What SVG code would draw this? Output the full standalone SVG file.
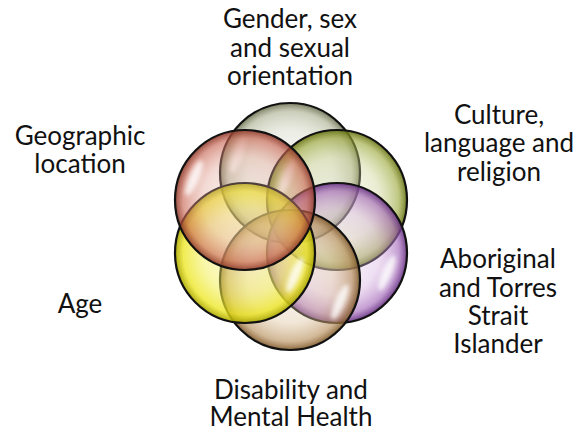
<svg xmlns="http://www.w3.org/2000/svg" width="581" height="434" viewBox="0 0 581 434">
  <defs>
    <style>
      .ring { stroke: #111; stroke-width: 2.2; }
      .shine { fill: #fff; opacity: 0.8; filter: url(#soft); }
      .label { font-family: Lato, "Liberation Sans", sans-serif; font-size: 26px; fill: #111; text-anchor: middle; }
    </style>
    <filter id="soft" x="-50%" y="-50%" width="200%" height="200%">
      <feGaussianBlur stdDeviation="2.2"/>
    </filter>
    <radialGradient id="gGray">
      <stop offset="0" stop-color="#d8dccb" stop-opacity="0.2"/>
      <stop offset="0.6" stop-color="#c8ccb4" stop-opacity="0.35"/>
      <stop offset="0.88" stop-color="#a8ac8c" stop-opacity="0.6"/>
      <stop offset="1" stop-color="#6c7050" stop-opacity="0.9"/>
    </radialGradient>
    <radialGradient id="gRed">
      <stop offset="0" stop-color="#f0c8c0" stop-opacity="0.2"/>
      <stop offset="0.6" stop-color="#e0a090" stop-opacity="0.38"/>
      <stop offset="0.88" stop-color="#c86452" stop-opacity="0.62"/>
      <stop offset="1" stop-color="#8a3626" stop-opacity="0.9"/>
    </radialGradient>
    <radialGradient id="gGreen">
      <stop offset="0" stop-color="#e2e8c0" stop-opacity="0.2"/>
      <stop offset="0.6" stop-color="#c8d088" stop-opacity="0.38"/>
      <stop offset="0.88" stop-color="#98a636" stop-opacity="0.62"/>
      <stop offset="1" stop-color="#647010" stop-opacity="0.9"/>
    </radialGradient>
    <radialGradient id="gPurple">
      <stop offset="0" stop-color="#ead8f0" stop-opacity="0.2"/>
      <stop offset="0.6" stop-color="#d4ace0" stop-opacity="0.38"/>
      <stop offset="0.88" stop-color="#a062b6" stop-opacity="0.62"/>
      <stop offset="1" stop-color="#642e80" stop-opacity="0.9"/>
    </radialGradient>
    <radialGradient id="gYellow">
      <stop offset="0" stop-color="#f6f29c" stop-opacity="0.3"/>
      <stop offset="0.6" stop-color="#f2ee50" stop-opacity="0.5"/>
      <stop offset="0.88" stop-color="#ece61a" stop-opacity="0.75"/>
      <stop offset="1" stop-color="#a8a400" stop-opacity="0.92"/>
    </radialGradient>
    <radialGradient id="gBrown">
      <stop offset="0" stop-color="#eedcc0" stop-opacity="0.2"/>
      <stop offset="0.6" stop-color="#dcc098" stop-opacity="0.38"/>
      <stop offset="0.88" stop-color="#b48a54" stop-opacity="0.62"/>
      <stop offset="1" stop-color="#7c5628" stop-opacity="0.9"/>
    </radialGradient>
  </defs>

  <rect width="581" height="434" fill="#fff"/>

  <!-- Gender, sex and sexual orientation (top) -->
  <g id="gender">
    <circle cx="290" cy="173" r="70" fill="url(#gGray)" class="ring"/>
    <ellipse cx="238" cy="155" rx="5" ry="19" transform="rotate(20 238 155)" class="shine"/>
    <text class="label" x="290" y="28">Gender, sex</text>
    <text class="label" x="290" y="57">and sexual</text>
    <text class="label" x="290" y="85">orientation</text>
  </g>

  <!-- Culture, language and religion (upper right) -->
  <g id="culture">
    <circle cx="337" cy="200" r="70" fill="url(#gGreen)" class="ring"/>
    <ellipse cx="287" cy="178" rx="5" ry="19" transform="rotate(23 287 178)" class="shine"/>
    <text class="label" x="499" y="124">Culture,</text>
    <text class="label" x="499" y="152">language and</text>
    <text class="label" x="499" y="181">religion</text>
  </g>

  <!-- Aboriginal and Torres Strait Islander (lower right) -->
  <g id="aboriginal">
    <circle cx="337" cy="253" r="70" fill="url(#gPurple)" class="ring"/>
    <ellipse cx="387" cy="273" rx="5" ry="19" transform="rotate(23 387 273)" class="shine"/>
    <text class="label" x="498" y="268">Aboriginal</text>
    <text class="label" x="498" y="297">and Torres</text>
    <text class="label" x="498" y="325">Strait</text>
    <text class="label" x="498" y="353">Islander</text>
  </g>

  <!-- Disability and Mental Health (bottom) -->
  <g id="disability">
    <circle cx="290" cy="280" r="70" fill="url(#gBrown)" class="ring"/>
    <ellipse cx="340" cy="302" rx="5" ry="19" transform="rotate(23 340 302)" class="shine"/>
    <text class="label" x="291" y="399">Disability and</text>
    <text class="label" x="291" y="426">Mental Health</text>
  </g>

  <!-- Age (lower left) -->
  <g id="age">
    <circle cx="245" cy="253" r="70" fill="url(#gYellow)" class="ring"/>
    <ellipse cx="295" cy="275" rx="5" ry="19" transform="rotate(23 295 275)" class="shine"/>
    <text class="label" x="80" y="313">Age</text>
  </g>

  <!-- Geographic location (upper left) -->
  <g id="geographic">
    <circle cx="245" cy="200" r="70" fill="url(#gRed)" class="ring"/>
    <ellipse cx="194" cy="178" rx="5" ry="19" transform="rotate(23 194 178)" class="shine"/>
    <text class="label" x="80" y="145">Geographic</text>
    <text class="label" x="80" y="173">location</text>
  </g>
</svg>
